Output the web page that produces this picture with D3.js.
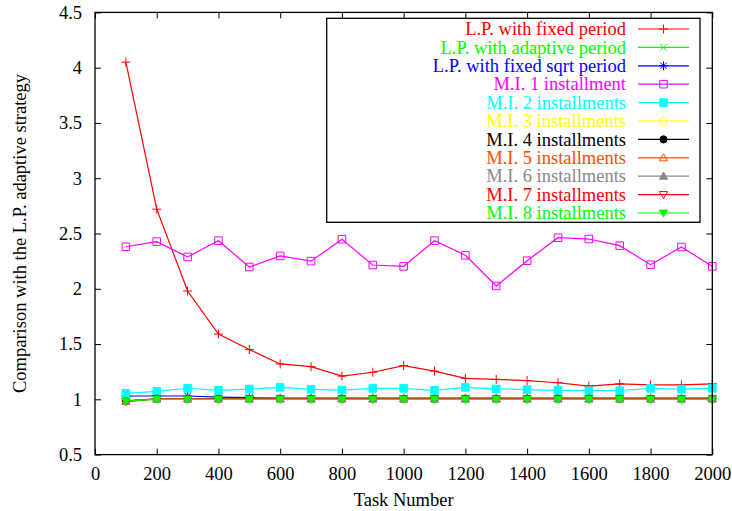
<!DOCTYPE html>
<html>
<head>
<meta charset="utf-8">
<script src="https://cdn.jsdelivr.net/npm/d3@7/dist/d3.min.js"></script>
<style>
  html, body { margin: 0; padding: 0; background: #fff; }
  svg { display: block; }
  text { font-family: "Liberation Serif", "Times New Roman", serif; }
</style>
</head>
<body>
<svg id="chart" width="732" height="511"></svg>
<script>
// Task counts on the horizontal axis
const taskNumbers = [100, 200, 300, 400, 500, 600, 700, 800, 900, 1000,
                     1100, 1200, 1300, 1400, 1500, 1600, 1700, 1800, 1900, 2000];

// Ratio to the L.P. adaptive strategy, one array per method
const lpFixed      = [4.05, 2.72, 1.98, 1.59, 1.45, 1.32, 1.295, 1.21, 1.245, 1.305,
                      1.255, 1.19, 1.18, 1.17, 1.15, 1.12, 1.14, 1.13, 1.13, 1.14];
const lpAdaptive   = [0.99, 1.0, 1.0, 1.0, 1.0, 1.0, 1.0, 1.0, 1.0, 1.0,
                      1.0, 1.0, 1.0, 1.0, 1.0, 1.0, 1.0, 1.0, 1.0, 1.0];
const lpSqrt       = [1.03, 1.03, 1.03, 1.02, 1.015, 1.01, 1.01, 1.01, 1.01, 1.01,
                      1.01, 1.01, 1.01, 1.01, 1.01, 1.01, 1.01, 1.01, 1.01, 1.01];
const mi1          = [2.38, 2.426, 2.288, 2.435, 2.197, 2.297, 2.25, 2.448, 2.215, 2.203,
                      2.435, 2.303, 2.025, 2.254, 2.462, 2.45, 2.39, 2.218, 2.378, 2.203];
const mi2          = [1.054, 1.072, 1.10, 1.081, 1.093, 1.108, 1.09, 1.084, 1.099, 1.099,
                      1.081, 1.108, 1.094, 1.088, 1.081, 1.078, 1.078, 1.10, 1.093, 1.10];
const mi3          = [0.98, 1.005, 1.005, 1.005, 1.005, 1.005, 1.005, 1.005, 1.005, 1.005,
                      1.005, 1.005, 1.005, 1.005, 1.005, 1.005, 1.005, 1.005, 1.005, 1.005];
const mi4          = [0.985, 1.005, 1.005, 1.005, 1.005, 1.005, 1.005, 1.005, 1.005, 1.005,
                      1.005, 1.005, 1.005, 1.005, 1.005, 1.005, 1.005, 1.005, 1.005, 1.005];
const mi5          = [0.98, 1.005, 1.005, 1.005, 1.005, 1.005, 1.005, 1.005, 1.005, 1.005,
                      1.005, 1.005, 1.005, 1.005, 1.005, 1.005, 1.005, 1.005, 1.005, 1.005];
const mi6          = [0.985, 1.005, 1.005, 1.005, 1.005, 1.005, 1.005, 1.005, 1.005, 1.005,
                      1.005, 1.005, 1.005, 1.005, 1.005, 1.005, 1.005, 1.005, 1.005, 1.005];
const mi7          = [0.98, 1.005, 1.005, 1.005, 1.005, 1.005, 1.005, 1.005, 1.005, 1.005,
                      1.005, 1.005, 1.005, 1.005, 1.005, 1.005, 1.005, 1.005, 1.005, 1.005];
const mi8          = [0.985, 1.0, 1.0, 1.0, 1.0, 1.0, 1.0, 1.0, 1.0, 1.0,
                      1.0, 1.0, 1.0, 1.0, 1.0, 1.0, 1.0, 1.0, 1.0, 1.0];

const seriesNames = [
  "L.P. with fixed period", "L.P. with adaptive period", "L.P. with fixed sqrt period",
  "M.I. 1 installment", "M.I. 2 installments", "M.I. 3 installments", "M.I. 4 installments",
  "M.I. 5 installments", "M.I. 6 installments", "M.I. 7 installments", "M.I. 8 installments"
];
const seriesValues = [lpFixed, lpAdaptive, lpSqrt, mi1, mi2, mi3, mi4, mi5, mi6, mi7, mi8];
const seriesColors = ["#ff0000", "#00ff00", "#0000ff", "#ff00ff", "#00ffff", "#ffff00",
                      "#000000", "#ff4d00", "#888888", "#ff0000", "#00ff00"];
const seriesMarkers = ["plus", "cross", "star", "square", "squareFilled", "circle",
                       "circleFilled", "triangle", "triangleFilled", "triangleDown", "triangleDownFilled"];

const xTicks = [0, 200, 400, 600, 800, 1000, 1200, 1400, 1600, 1800, 2000];
const yTicks = [0.5, 1, 1.5, 2, 2.5, 3, 3.5, 4, 4.5];

const xTitle = "Task Number";
const yTitle = "Comparison with the L.P. adaptive strategy";

// Layout
const plot = { left: 95, right: 712.3, top: 12.4, bottom: 454.6 };
const fontSize = 18.5;

const svg = d3.select("#chart");

const x = d3.scaleLinear().domain([0, 2000]).range([plot.left, plot.right]);
const y = d3.scaleLinear().domain([0.5, 4.5]).range([plot.bottom, plot.top]);

// Marker shapes in the gnuplot style
function markerPath(type, s) {
  const h = s / 2;
  switch (type) {
    case "plus":
      return `M${-h},0H${h}M0,${-h}V${h}`;
    case "cross":
      return `M${-h * 0.75},${-h * 0.75}L${h * 0.75},${h * 0.75}M${-h * 0.75},${h * 0.75}L${h * 0.75},${-h * 0.75}`;
    case "star":
      return `M${-h},0H${h}M0,${-h}V${h}M${-h * 0.75},${-h * 0.75}L${h * 0.75},${h * 0.75}M${-h * 0.75},${h * 0.75}L${h * 0.75},${-h * 0.75}`;
    case "square":
    case "squareFilled": {
      const q = s * 0.42;
      return `M${-q},${-q}H${q}V${q}H${-q}Z`;
    }
    case "circle":
    case "circleFilled": {
      const r = s * 0.4;
      return `M${r},0A${r},${r},0,1,1,${-r},0A${r},${r},0,1,1,${r},0Z`;
    }
    case "triangle":
    case "triangleFilled": {
      const t = s * 0.45;
      return `M0,${-t}L${t},${t * 0.75}L${-t},${t * 0.75}Z`;
    }
    case "triangleDown":
    case "triangleDownFilled": {
      const t = s * 0.45;
      return `M0,${t}L${t},${-t * 0.75}L${-t},${-t * 0.75}Z`;
    }
  }
}
const isFilled = t => /Filled$/.test(t);

function drawMarker(g, type, color, cx, cy) {
  g.append("path")
    .attr("transform", `translate(${cx},${cy})`)
    .attr("d", markerPath(type, 9))
    .attr("fill", isFilled(type) ? color : "none")
    .attr("stroke", color)
    .attr("stroke-width", 1);
}

// Axes with inward ticks on all four sides
const tickLen = 6;
const axisStyle = g => {
  g.select(".domain").remove();
  g.selectAll("line").attr("stroke", "#000").attr("stroke-width", 1);
  g.selectAll("text").attr("font-size", fontSize).attr("fill", "#000")
    .attr("font-family", "Liberation Serif, Times New Roman, serif");
};

svg.append("g")
  .attr("transform", `translate(0,${plot.bottom})`)
  .call(d3.axisBottom(x).tickValues(xTicks).tickSize(-tickLen).tickPadding(12).tickFormat(d3.format("d")))
  .call(axisStyle);
svg.append("g")
  .attr("transform", `translate(0,${plot.top})`)
  .call(d3.axisTop(x).tickValues(xTicks).tickSize(-tickLen).tickFormat(""))
  .call(axisStyle);
svg.append("g")
  .attr("transform", `translate(${plot.left},0)`)
  .call(d3.axisLeft(y).tickValues(yTicks).tickSize(-tickLen).tickPadding(13).tickFormat(d => String(d)))
  .call(axisStyle);
svg.append("g")
  .attr("transform", `translate(${plot.right},0)`)
  .call(d3.axisRight(y).tickValues(yTicks).tickSize(-tickLen).tickFormat(""))
  .call(axisStyle);

// Series lines and markers
const line = d3.line().x((d, i) => x(taskNumbers[i])).y(d => y(d));
const seriesGroup = svg.append("g");
seriesValues.forEach((vals, si) => {
  const g = seriesGroup.append("g");
  g.append("path")
    .datum(vals)
    .attr("d", line)
    .attr("fill", "none")
    .attr("stroke", seriesColors[si])
    .attr("stroke-width", 1.2);
  vals.forEach((v, i) => drawMarker(g, seriesMarkers[si], seriesColors[si], x(taskNumbers[i]), y(v)));
});

// Plot frame
svg.append("rect")
  .attr("x", plot.left).attr("y", plot.top)
  .attr("width", plot.right - plot.left).attr("height", plot.bottom - plot.top)
  .attr("fill", "none").attr("stroke", "#000").attr("stroke-width", 1.3);

// Legend
const legend = { left: 326.7, right: 700, top: 18.3, bottom: 222.3,
                 firstRow: 29, rowStep: 18.4, textRight: 626, lineFrom: 638, lineTo: 689 };
svg.append("rect")
  .attr("x", legend.left).attr("y", legend.top)
  .attr("width", legend.right - legend.left).attr("height", legend.bottom - legend.top)
  .attr("fill", "none").attr("stroke", "#000").attr("stroke-width", 1.3);

seriesNames.forEach((name, si) => {
  const cy = legend.firstRow + si * legend.rowStep;
  const g = svg.append("g");
  g.append("text")
    .attr("x", legend.textRight).attr("y", cy).attr("dy", "0.34em")
    .attr("text-anchor", "end").attr("font-size", fontSize)
    .attr("fill", seriesColors[si]).text(name);
  g.append("line")
    .attr("x1", legend.lineFrom).attr("x2", legend.lineTo)
    .attr("y1", cy).attr("y2", cy)
    .attr("stroke", seriesColors[si]).attr("stroke-width", 1.2);
  drawMarker(g, seriesMarkers[si], seriesColors[si], (legend.lineFrom + legend.lineTo) / 2, cy);
});

// Axis titles
svg.append("text")
  .attr("x", (plot.left + plot.right) / 2).attr("y", 506)
  .attr("text-anchor", "middle").attr("font-size", fontSize)
  .text(xTitle);
svg.append("text")
  .attr("transform", `translate(26,${(plot.top + plot.bottom) / 2}) rotate(-90)`)
  .attr("text-anchor", "middle").attr("font-size", fontSize)
  .text(yTitle);
</script>
</body>
</html>
